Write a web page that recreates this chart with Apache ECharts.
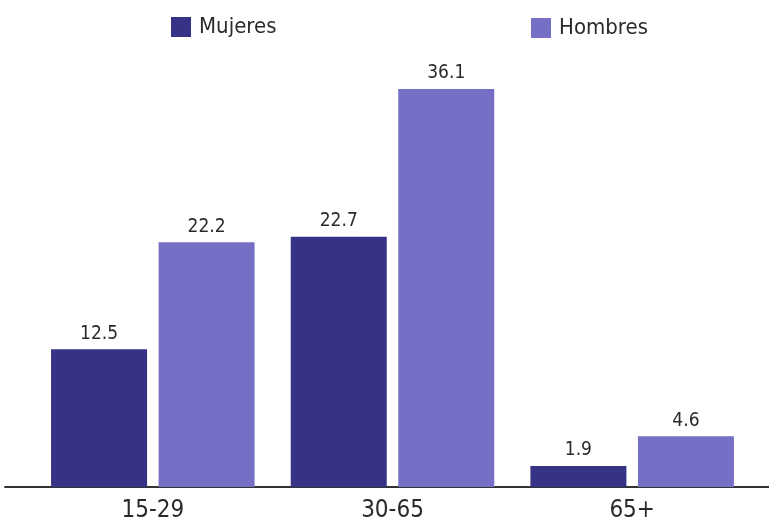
<!DOCTYPE html>
<html>
<head>
<meta charset="utf-8">
<script src="https://cdn.jsdelivr.net/npm/echarts@6/dist/echarts.min.js"></script>
<style>html,body{margin:0;padding:0;background:#fff}#c{width:769px;height:525px}</style>
</head>
<body>
<div id="c"></div>
<script>
const categories = ['15-29', '30-65', '65+'];
const mujeres = [12.5, 22.7, 1.9];
const hombres = [22.2, 36.1, 4.6];
const seriesNames = ['Mujeres', 'Hombres'];

const FONT = "'Liberation Sans Narrow', 'DejaVu Sans Condensed', sans-serif";
const chart = echarts.init(document.getElementById('c'), null, {renderer: 'canvas'});
chart.setOption({
  animation: false,
  backgroundColor: '#fff',
  textStyle: {fontFamily: FONT},
  legend: [
    {data: [seriesNames[0]], left: 166, top: 11, icon: 'rect', itemWidth: 20, itemHeight: 20,
     textStyle: {fontFamily: FONT, fontSize: 22, color: '#2a2a2a', padding: [0, 0, 0, 3]}},
    {data: [seriesNames[1]], left: 526, top: 12, icon: 'rect', itemWidth: 20, itemHeight: 20,
     textStyle: {fontFamily: FONT, fontSize: 22, color: '#2a2a2a', padding: [0, 0, 0, 3]}}
  ],
  grid: [
    {left: 33, right: 17, top: 46, bottom: 38},
    {left: 5, right: 0, top: 46, bottom: 38}
  ],
  xAxis: [
    {type: 'category', data: categories, gridIndex: 0,
     axisLine: {show: false}, axisTick: {show: false},
     axisLabel: {fontFamily: FONT, fontSize: 24, color: '#2a2a2a', margin: 12}},
    {type: 'category', data: [''], gridIndex: 1,
     axisLine: {show: true, lineStyle: {color: '#333', width: 2}}, axisTick: {show: false},
     axisLabel: {show: false}}
  ],
  yAxis: [
    {type: 'value', min: 0, max: 40, gridIndex: 0, show: false},
    {type: 'value', min: 0, max: 40, gridIndex: 1, show: false}
  ],
  series: [
    {name: seriesNames[0], type: 'bar', data: mujeres, barWidth: 96, barGap: '12%',
     itemStyle: {color: '#363285'},
     label: {show: true, position: 'top', distance: 6, fontFamily: FONT, fontSize: 19, color: '#2a2a2a'}},
    {name: seriesNames[1], type: 'bar', data: hombres, barWidth: 96, barGap: '12%',
     itemStyle: {color: '#7570C6'},
     label: {show: true, position: 'top', distance: 6, fontFamily: FONT, fontSize: 19, color: '#2a2a2a'}}
  ]
});
</script>
</body>
</html>
